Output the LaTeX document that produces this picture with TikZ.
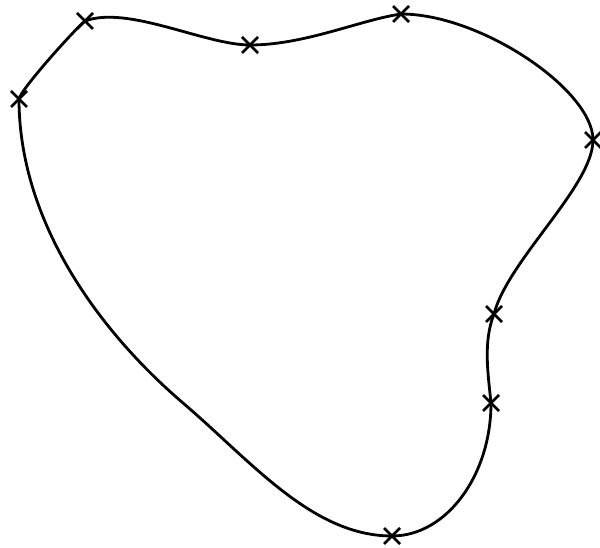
\documentclass[tikz,border=0pt]{standalone}
\begin{document}
\begin{tikzpicture}[x=1pt,y=-1pt,
  curvestyle/.style={line width=2.8pt, line join=round},
  markstyle/.style={line width=2.8pt}]
\useasboundingbox (0,0) rectangle (600,548);
\coordinate (p0) at (19,99);
\coordinate (p1) at (85,21);
\coordinate (p2) at (250,45);
\coordinate (p3) at (401,14);
\coordinate (p4) at (593,140);
\coordinate (p5) at (494,314);
\coordinate (p6) at (491,403);
\coordinate (p7) at (392,536);
\coordinate (m) at (183,403);
\draw[curvestyle] (p0)
  .. controls (21,89) and (75,29) .. (p1)
  .. controls (128,5) and (205,45) .. (p2)
  .. controls (305,45) and (360,20) .. (p3)
  .. controls (481,14) and (593,90) .. (p4)
  .. controls (593,186) and (508,260) .. (p5)
  .. controls (483,342) and (488,373) .. (p6)
  .. controls (491,476) and (446,536) .. (p7)
  .. controls (312,536) and (251,461) .. (m)
  .. controls (92,325) and (19,216) .. (p0) -- cycle;
\foreach \p in {p0,p1,p2,p3,p4,p5,p6,p7}{
  \draw[markstyle] ([shift={(-8,-8)}]\p) -- ([shift={(8,8)}]\p);
  \draw[markstyle] ([shift={(-8,8)}]\p) -- ([shift={(8,-8)}]\p);
}
\end{tikzpicture}
\end{document}
